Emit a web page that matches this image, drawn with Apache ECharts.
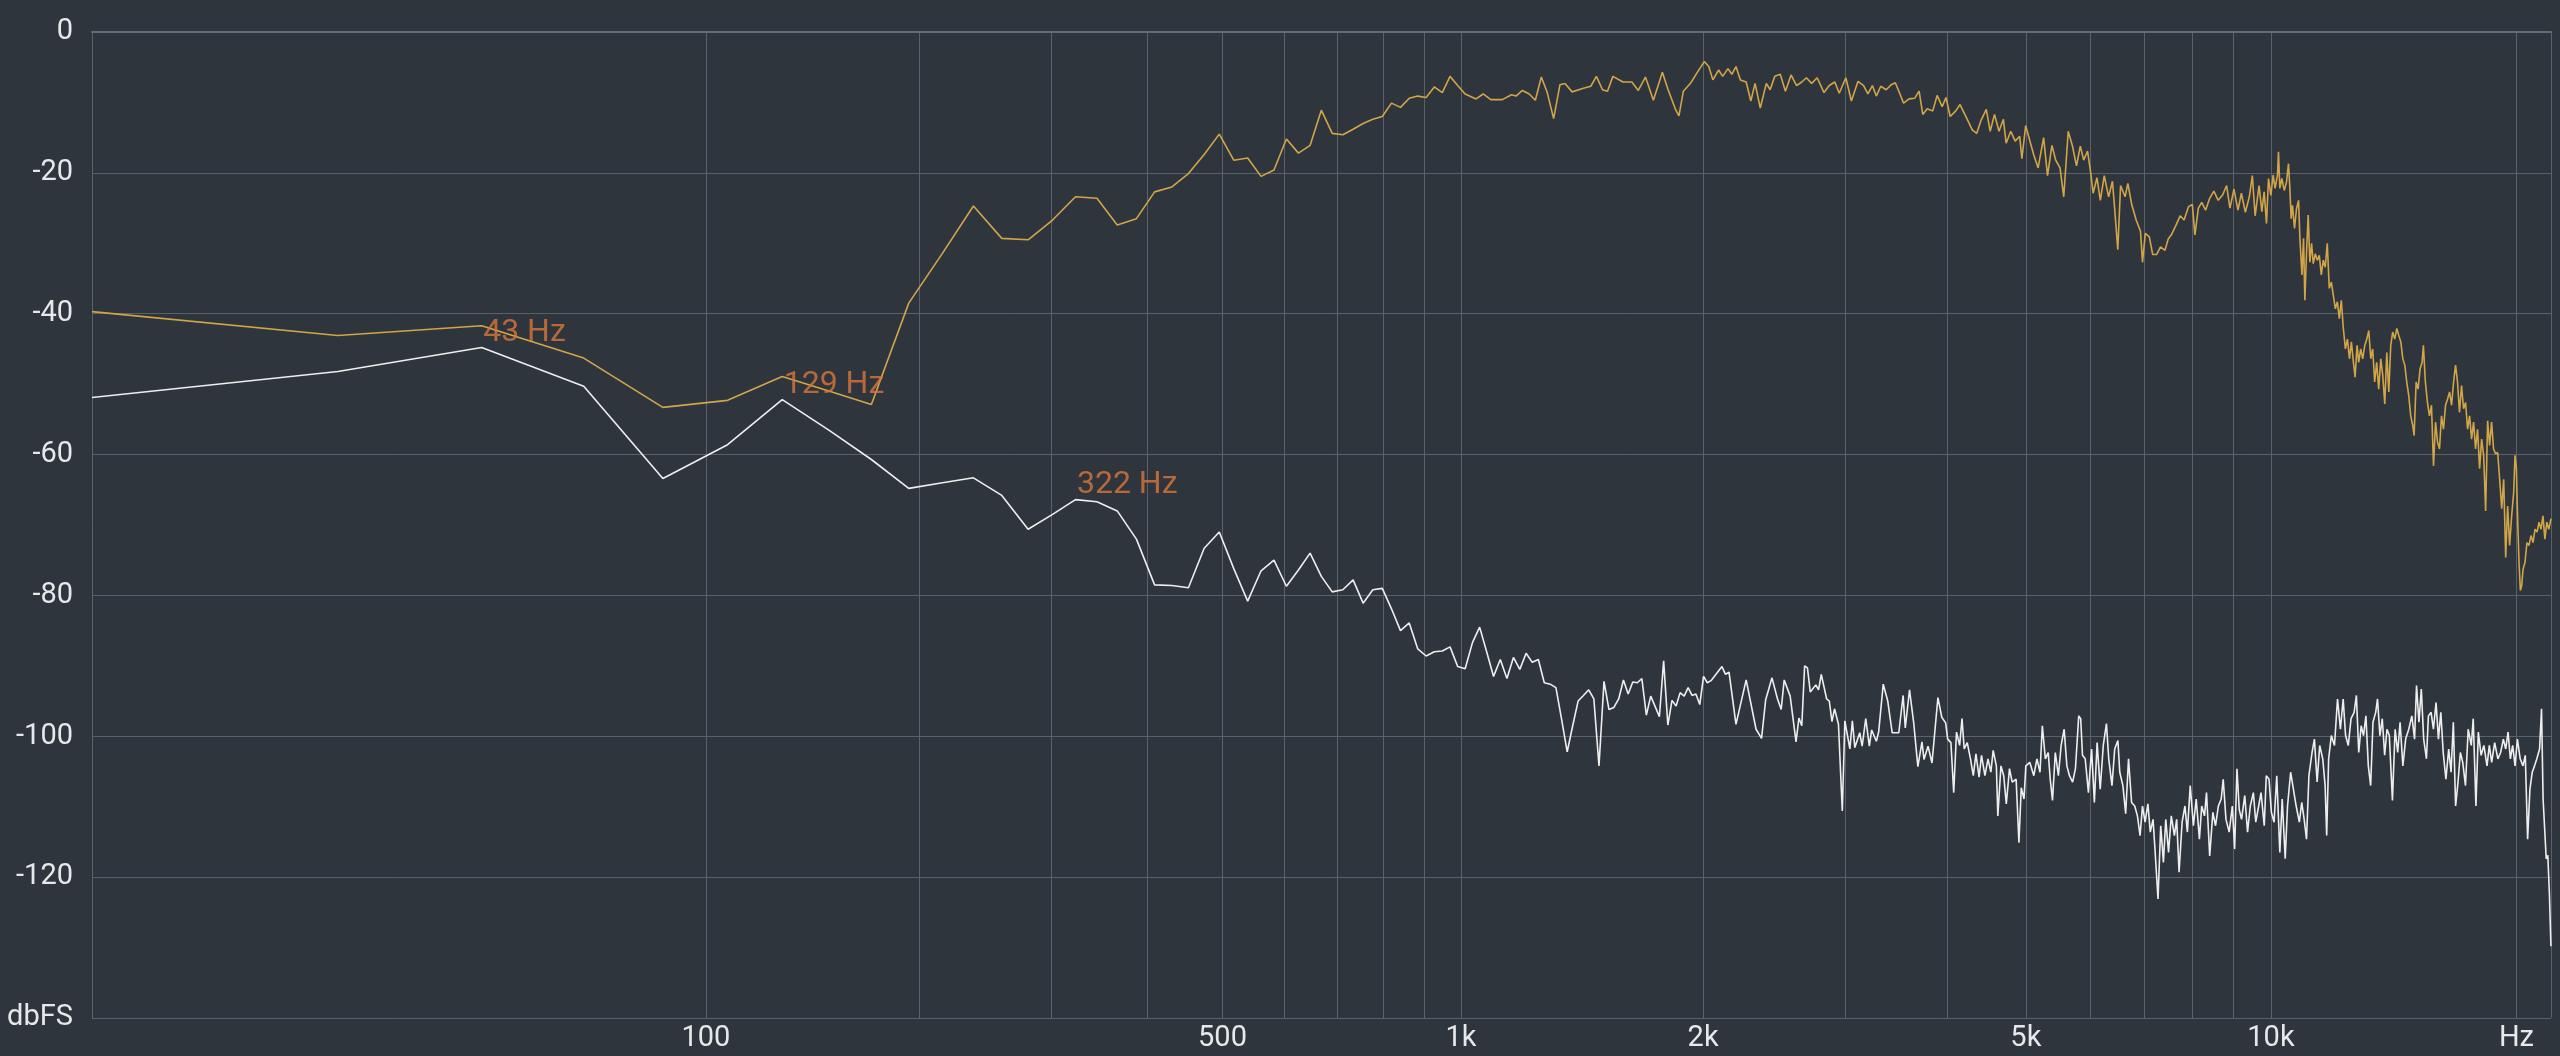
<!DOCTYPE html>
<html>
<head>
<meta charset="utf-8">
<script src="https://cdn.jsdelivr.net/npm/echarts@6/dist/echarts.min.js"></script>
<style>
html,body{margin:0;padding:0;background:#2f353d;}
#chart{width:2560px;height:1056px;}
</style>
</head>
<body>
<div id="chart"></div>
<script>
// FFT spectrum: 44.1 kHz, 2048-point FFT -> bin index k is k * binHz
const sampleRate = 44100;
const fftSize = 2048;
const binHz = sampleRate / fftSize;

// x grid lines (Hz) and x tick labels
const gridFreqs = [100,200,300,400,500,600,700,800,900,1000,2000,3000,4000,5000,6000,7000,8000,9000,10000,20000];
const labelFreqs = [100,500,1000,2000,5000,10000,20000];
const labelTexts = ['100','500','1k','2k','5k','10k','Hz'];
// y axis
const yMin = -140, yMax = 0, yStep = 20;
const yBottomLabel = 'dbFS';

// peak annotations (on the white trace)
const peakBin = [2, 6, 15];
const peakText = ['43 Hz', '129 Hz', '322 Hz'];

// Gold trace: bin index, level dBFS
const goldBin = [
0,1,2,3,4,5,6,7,8,9,
10,11,12,13,14,15,16,17,18,19,
20,21,22,23,24,25,26,27,28,29,
30,31,32,33,34,35,36,37,38,39,
40,41,42,43,44,45,46,47,48.5,49.5,
50.6,52.3,53.7,54.4,55.4,56.5,57.5,58.5,59.5,60.6,
61.7,62.6,63.9,66,67.4,68.5,69.7,70.7,71.8,73.9,
75.8,77.2,78.8,80.6,82.7,84,85.8,86.7,87.8,89.7,
91.4,93.2,94.4,95.5,97.1,98.2,99.7,100.8,102.0,103.3,
105.0,106.4,107.7,109.3,111.2,112.4,113.9,115.7,117.4,119.3,
121.2,123.0,124.6,126.5,128.5,131.0,133.0,135.1,136.8,139.4,
141.6,144.3,146.6,148.4,150.3,152.0,153.9,156.3,158.5,160.4,
162.4,164.2,166.8,169.5,171.6,173.4,175.6,178.4,180.6,183.2,
185.2,187.4,190.4,192.7,196.3,199.5,202.0,204.6,207.6,209.9,
212.5,215.2,217.9,219.6,222.5,225.3,228.2,229.6,232.1,235.3,
237.4,240.4,244.2,246.9,250.0,252.7,255.8,258.5,261.8,265.1,
268.0,270.9,273.5,276.5,279.1,280.9,284.0,286.7,289.9,293.5,
296.7,298.8,301.2,303.6,307.5,309.9,313.3,317.3,321.2,323.0,
325.6,329.3,332.5,336.1,339.9,344.2,347.4,350.5,354.9,359.3,
363.3,367.9,371.9,374.6,378.3,381.9,386.1,390.3,395.2,400.1,
405.3,409.7,413.6,418.3,423.1,427.2,432.0,436.9,440.6,444.1,
449.1,452.6,455.6,458.6,461.2,464.3,467.3,469.9,473.1,474.4,
476.2,478.9,482.2,485.3,488.0,489.9,491.7,493.5,496.4,499.2,
502.1,504.0,506.9,509.2,511.1,513.6,515.9,518.4,520.9,523.4,
526.4,529.4,532.4,535.4,538.4,541.4,544.5,547.6,550.8,553.9,
557.1,560.2,563.4,566.5,569.8,573.1,576.4,579.7,582.9,586.2,
589.0,592.3,595.0,598.4,601.8,605.3,608.8,612.2,615.7,619.0,
622.5,626.0,629.6,633.3,636.9,640.5,644.2,647.8,651.4,655.0,
658.8,662.6,666.4,670.2,674.0,677.8,681.5,685.3,689.2,693.2,
695.8,699.8,703.7,707.7,711.7,714.3,718.3,722.5,726.6,730.8,
735.0,739.2,743.3,747.5,751.7,756.0,760.4,764.8,769.1,773.5,
777.8,782.2,786.5,790.9,795.5,800.1,804.6,809.2,813.8,818.4,
823.0,827.6,832.3,837.1,841.9,846.7,851.5,856.3,861.1,865.9,
870.8,875.9,880.9,885.9,891.0,896.0,901.1,906.1,911.1,916.4,
921.6,925.1,928.7,932.2,935.7,939.2,942.7,946.3,951.5,956.8,
962.3,967.9,973.4,978.9,984.5,990.0,995.5,1001.0,1006.5,1012.0,
1017.5,1024
];
const goldDb = [
-39.7,-43.1,-41.7,-46.3,-53.3,-52.3,-48.9,-51.0,-52.9,-38.5,
-31.4,-24.7,-29.3,-29.5,-26.7,-23.4,-23.6,-27.4,-26.5,-22.7,
-22.0,-20.1,-17.4,-14.5,-18.2,-17.9,-20.5,-19.6,-15.2,-17.2,
-16.1,-11.1,-14.4,-14.6,-13.8,-13.0,-12.4,-12.0,-10.1,-10.7,
-9.4,-9.1,-9.3,-7.8,-8.6,-6.3,-7.6,-8.8,-9.5,-8.8,
-9.6,-9.6,-8.9,-9.1,-8.3,-8.8,-9.7,-6.4,-8.6,-12.3,
-7.5,-7.3,-8.5,-8.0,-7.7,-6.3,-8.2,-8.4,-6.3,-7.1,
-7.1,-8.3,-6.4,-9.7,-5.7,-8.1,-10.9,-11.9,-8.4,-7.2,
-5.7,-4.2,-4.9,-6.8,-5.4,-6.3,-5.2,-6.0,-4.9,-6.8,
-7.1,-9.8,-7.3,-10.8,-7.3,-8.2,-6.3,-6.0,-8.4,-6.1,
-7.6,-7.1,-6.5,-7.3,-6.5,-8.6,-7.6,-7.1,-8.7,-6.5,
-9.8,-7.0,-7.6,-8.8,-7.6,-9.1,-7.7,-8.2,-7.5,-7.2,
-8.7,-10.1,-9.5,-9.4,-8.4,-11.7,-10.9,-11.2,-9.0,-10.6,
-9.3,-12.0,-11.2,-10.3,-12.2,-13.9,-14.4,-12.5,-11.0,-14.1,
-11.7,-14.1,-12.4,-15.8,-14.1,-15.5,-14.8,-18.0,-13.3,-15.8,
-17.4,-19.3,-15.0,-20.4,-16.1,-18.2,-19.3,-23.4,-14.1,-16.3,
-19.0,-16.2,-18.2,-16.9,-20.1,-22.9,-20.7,-23.9,-20.4,-23.4,
-21.2,-25.6,-30.9,-21.8,-23.4,-21.5,-24.5,-26.7,-28.3,-32.7,
-28.6,-29.1,-31.6,-31.6,-30.5,-31.0,-29.4,-28.8,-27.5,-26.1,
-26.7,-24.8,-24.5,-28.8,-25.0,-24.2,-25.3,-23.7,-22.6,-23.9,
-23.1,-21.8,-25.0,-22.3,-25.3,-22.9,-25.6,-23.4,-20.4,-26.1,
-21.8,-25.5,-22.7,-27.2,-20.8,-23.2,-20.3,-22.2,-20.3,-17.0,
-22.2,-20.8,-22.5,-21.3,-18.7,-22.2,-26.5,-24.6,-27.9,-25.1,
-23.9,-29.3,-34.5,-29.3,-38.1,-31.2,-26.0,-32.7,-30.0,-32.9,
-31.5,-32.4,-31.7,-34.5,-32.4,-33.4,-30.0,-36.4,-35.5,-37.4,
-39.3,-38.3,-40.7,-38.1,-42.1,-45.0,-43.6,-46.4,-44.0,-46.9,
-49.0,-44.5,-46.9,-45.0,-46.4,-44.5,-43.6,-42.4,-46.4,-45.0,
-49.7,-46.9,-50.7,-46.4,-48.8,-52.8,-45.5,-51.1,-44.5,-42.6,
-43.6,-42.1,-43.1,-44.0,-46.4,-47.3,-49.7,-51.6,-54.5,-55.9,
-57.3,-49.7,-50.7,-47.8,-46.9,-44.5,-49.7,-52.6,-54.5,-53.0,
-61.6,-55.4,-58.2,-59.2,-54.5,-56.4,-53.0,-52.1,-51.1,-53.0,
-49.7,-47.3,-49.7,-54.0,-50.2,-53.5,-52.6,-56.4,-54.5,-57.8,
-55.4,-59.2,-56.4,-62.0,-57.8,-60.1,-68.0,-55.2,-58.7,-55.4,
-59.2,-59.9,-59.7,-63.5,-67.7,-63.5,-74.6,-67.3,-72.9,-68.7,
-65.4,-60.1,-62.0,-69.6,-75.3,-79.3,-78.6,-76.3,-75.3,-72.5,
-72.9,-71.5,-72.5,-70.6,-71.0,-69.6,-70.6,-68.7,-72.0,-69.6,
-70.6,-69.1
];

// White trace: bin index, level dBFS
const whiteBin = [
0,1,2,3,4,5,6,7,8,9,
10,11,12,13,14,15,16,17,18,19,
20,21,22,23,24,25,26,27,28,29,
30,31,32,33,34,35,36,37,38,39,
40,41,42,43,44,45,46,47,48,49,
50,51,52,53,54,55,56,57,58,59,
60,61,62,63,64,65,66,67,68,69,
70,71,72,73,74,75,76,77,78,79,
80,82,83,84,85,86,87,88,89,90,
91,92,93,94,95,98,99,100,102,105,
108,109.7,111,113,114.8,116,117,119,121,122,
123,124,125,126,128,129,130,132,133,134,
135,136.5,138,139,141,142,143,145,146,147.5,
149,150,152,153,155,157,159,162,164,165,
167,169,171,173,174,176,178,181,183,185,
186.1,187.8,189.3,190.8,192.5,193.8,195.0,196.7,198.5,200.1,
201.6,203.4,204.8,206.8,208.6,210.3,211.7,213.6,214.5,216.4,
218.1,219.7,221.7,223.4,225.9,227.7,229.2,231.0,232.2,234.8,
237.5,239.6,241.7,243.3,245.4,247.4,248.8,250.4,252.4,254.6,
256.6,258.8,260.8,262.7,265.1,267.2,269.7,271.2,272.6,274.7,
277.2,279.7,281.9,284.1,286.6,289.1,291.7,293.6,296.3,298.6,
301.3,302.9,305.6,308.0,310.5,313.2,316.0,318.4,320.8,323.0,
325.4,328.0,330.2,332.8,334.6,337.5,340.1,342.7,345.0,347.7,
350.4,353.5,355.8,358.2,361.3,364.2,366.7,369.7,373.0,376.0,
379.4,381.9,384.9,387.1,390.6,394.1,397.1,400.3,403.5,405.8,
409.0,412.7,416.4,419.1,421.9,424.6,427.4,431.3,434.7,438.1,
441.9,444.9,448.6,451.6,455.7,458.3,461.9,465.0,468.5,472.1,
476.2,479.4,483.5,486.7,491.0,494.8,498.7,503.2,506.6,510.1,
513.5,517.0,521.6,525.1,529.1,533.0,537.6,541.2,543.6,546.6,
550.8,555.7,560.5,565.1,569.5,573.4,577.8,582.3,587.4,591.2,
595.1,599.2,603.2,607.3,611.4,615.5,619.5,624.3,627.5,631.8,
636.0,640.3,644.5,648.8,654.5,659.5,664.3,668.8,674.1,679.4,
685.4,691.4,696.7,700.6,705.4,710.1,714.9,720.5,724.5,730.0,
734.8,740.3,745.3,750.3,755.4,761.2,767.2,772.3,777.3,782.3,
787.6,792.9,798.2,804.4,810.6,817.7,822.2,828.5,834.1,840.7,
847.3,854.8,860.4,866.1,873.5,881.4,888.3,895.2,901.2,907.1,
913.1,919.0,925.2,931.4,938.7,946.1,952.3,958.6,964.9,971.2,
977.5,983.9,991.5,997.0,1001.4,1005.8,1010.3,1014.8,1019.3,1023.8
];
const whiteDb = [
-51.9,-48.2,-44.8,-50.3,-63.4,-58.6,-52.2,-56.6,-60.7,-64.8,
-64.0,-63.3,-65.8,-70.6,-68.5,-66.4,-66.7,-68.0,-72.0,-78.5,
-78.6,-78.9,-73.3,-71.0,-76.2,-80.8,-76.5,-75.0,-78.7,-76.4,
-74.0,-77.3,-79.5,-79.2,-77.8,-81.1,-79.2,-79.0,-81.9,-85.0,
-83.9,-87.6,-88.6,-88.0,-87.9,-87.3,-90.1,-90.4,-86.7,-84.5,
-88.0,-91.5,-89.1,-91.8,-88.8,-90.5,-88.2,-89.5,-89.1,-92.4,
-92.6,-93.1,-97.6,-102.2,-98.5,-95.0,-94.2,-93.4,-94.7,-104.2,
-92.2,-96.2,-95.9,-94.7,-92.0,-94.0,-92.3,-92.4,-91.8,-97.0,
-94.3,-97.2,-89.3,-98.4,-94.9,-95.7,-93.8,-94.3,-93.1,-94.2,
-94.0,-95.5,-91.5,-92.4,-92.1,-90.1,-91.2,-90.9,-98.3,-92.0,
-99.0,-100.3,-94.8,-91.7,-94.7,-96.2,-92.0,-94.3,-100.8,-97.4,
-98.5,-90.0,-90.3,-93.7,-92.7,-93.4,-91.2,-94.7,-95.0,-97.9,
-96.1,-98.3,-110.6,-97.8,-101.8,-97.8,-101.6,-99.5,-101.4,-97.5,
-101.4,-99.1,-100.7,-99.4,-92.6,-95.0,-99.5,-99.5,-94.2,-98.8,
-93.4,-98.1,-104.3,-100.8,-103.3,-101.4,-103.8,-94.5,-97.3,-98.1,
-100.4,-100.9,-108.0,-99.4,-101.3,-97.5,-101.8,-100.9,-103.2,-105.6,
-102.5,-105.8,-102.7,-105.6,-103.2,-105.1,-102.0,-104.2,-111.3,-104.2,
-105.6,-109.6,-104.6,-106.5,-106.1,-115.1,-107.3,-108.9,-104.2,-103.7,
-105.6,-103.2,-105.1,-98.5,-103.2,-102.3,-106.1,-109.1,-102.3,-105.6,
-101.3,-99.0,-104.2,-105.6,-106.5,-104.6,-97.1,-97.5,-102.7,-103.2,
-108.0,-101.8,-109.4,-100.9,-107.5,-101.3,-98.2,-103.2,-107.0,-101.8,
-100.6,-105.1,-107.0,-111.0,-103.2,-109.4,-109.9,-111.3,-114.1,-109.9,
-112.2,-109.6,-113.6,-111.8,-116.0,-123.1,-112.7,-117.9,-111.8,-116.5,
-111.3,-114.1,-111.8,-119.3,-112.2,-109.9,-113.6,-107.0,-112.7,-108.9,
-114.6,-109.9,-111.3,-108.0,-117.0,-110.8,-112.7,-109.9,-108.9,-106.1,
-111.8,-113.6,-109.9,-116.0,-104.6,-110.4,-111.8,-108.4,-113.6,-109.9,
-108.0,-112.2,-109.9,-108.0,-112.7,-105.6,-106.1,-110.8,-112.2,-105.6,
-116.5,-108.9,-117.4,-109.9,-105.1,-107.5,-109.9,-112.2,-109.4,-111.8,
-114.6,-105.6,-102.3,-100.4,-106.5,-101.3,-103.2,-107.0,-114.1,-103.2,
-99.9,-101.3,-94.7,-99.0,-94.7,-99.9,-101.3,-97.5,-96.6,-94.2,
-102.3,-98.5,-99.9,-97.1,-104.2,-107.0,-98.0,-96.6,-94.7,-99.9,
-97.5,-102.7,-99.0,-99.9,-109.1,-99.0,-102.3,-98.0,-104.2,-100.4,
-99.0,-97.1,-100.4,-92.8,-98.0,-93.3,-100.4,-103.2,-97.1,-96.6,
-99.0,-95.2,-100.4,-96.6,-102.3,-106.1,-101.8,-105.1,-98.0,-109.9,
-106.5,-102.3,-103.7,-107.0,-99.0,-101.3,-97.5,-109.9,-99.4,-102.7,
-101.3,-104.2,-101.3,-103.7,-100.9,-103.2,-102.3,-100.4,-101.8,-99.4,
-103.2,-101.3,-104.2,-100.4,-103.2,-104.2,-102.7,-114.6,-107.5,-105.1,
-104.2,-103.2,-101.8,-96.1,-108.9,-108.9,-117.4,-116.9,-122.2,-129.8
];

const toU = bin => Math.log10(bin + 1);          // log of (bin + 1)
const hzToU = f => toU(f / binHz);
const maxU = toU(fftSize / 2);

const goldData = goldBin.map((b, i) => [toU(b), goldDb[i]]);
const whiteData = whiteBin.map((b, i) => [toU(b), whiteDb[i]]);
const peakData = peakBin.map(b => [toU(b), whiteDb[whiteBin.indexOf(b)]]);

const gridColor = '#59616b';
const textColor = '#e6e8ea';
const font = 'Roboto, "Noto Sans", sans-serif';

const labelU = labelFreqs.map(hzToU);

const chart = echarts.init(document.getElementById('chart'), null, {renderer: 'canvas'});
chart.setOption({
  backgroundColor: '#2f353d',
  animation: false,
  grid: {left: 92, right: 9, top: 32, bottom: 38, containLabel: false},
  xAxis: {
    type: 'value',
    min: 0,
    max: maxU,
    axisLine: {show: true, lineStyle: {color: '#646c76', width: 2}},
    axisTick: {show: false, customValues: [0].concat(gridFreqs.map(hzToU), [maxU])},
    splitLine: {show: true, lineStyle: {color: gridColor, width: 1}},
    axisLabel: {
      customValues: labelU,
      color: textColor, fontSize: 29, fontFamily: font, margin: 6,
      formatter: v => {
        let best = 0, d = Infinity;
        labelU.forEach((u, i) => { const dd = Math.abs(u - v); if (dd < d) { d = dd; best = i; } });
        return labelTexts[best];
      }
    }
  },
  yAxis: {
    type: 'value',
    min: yMin, max: yMax, interval: yStep,
    axisLine: {show: true, lineStyle: {color: gridColor, width: 1}},
    axisTick: {show: false},
    splitLine: {show: true, lineStyle: {color: gridColor, width: 1}},
    axisLabel: {
      color: textColor, fontSize: 29, fontFamily: font, margin: 19,
      verticalAlign: 'middle', padding: [0, 0, 8, 0],
      formatter: v => v === yMin ? yBottomLabel : String(v)
    }
  },
  series: [
    {
      name: 'gold', type: 'line', data: goldData, showSymbol: false, symbol: 'none',
      lineStyle: {color: '#d2a548', width: 1.6}, silent: true, z: 2
    },
    {
      name: 'white', type: 'line', data: whiteData, showSymbol: false, symbol: 'none',
      lineStyle: {color: '#eeeeee', width: 1.6}, silent: true, z: 3
    },
    {
      name: 'peaks', type: 'scatter', data: peakData, symbolSize: 1,
      itemStyle: {color: 'rgba(0,0,0,0)'}, silent: true, z: 5,
      label: {
        show: true, position: 'right', distance: 1, offset: [0, -15],
        formatter: p => peakText[p.dataIndex],
        color: '#d9773a', fontSize: 32, fontFamily: font
      }
    }
  ]
});
</script>
</body>
</html>
